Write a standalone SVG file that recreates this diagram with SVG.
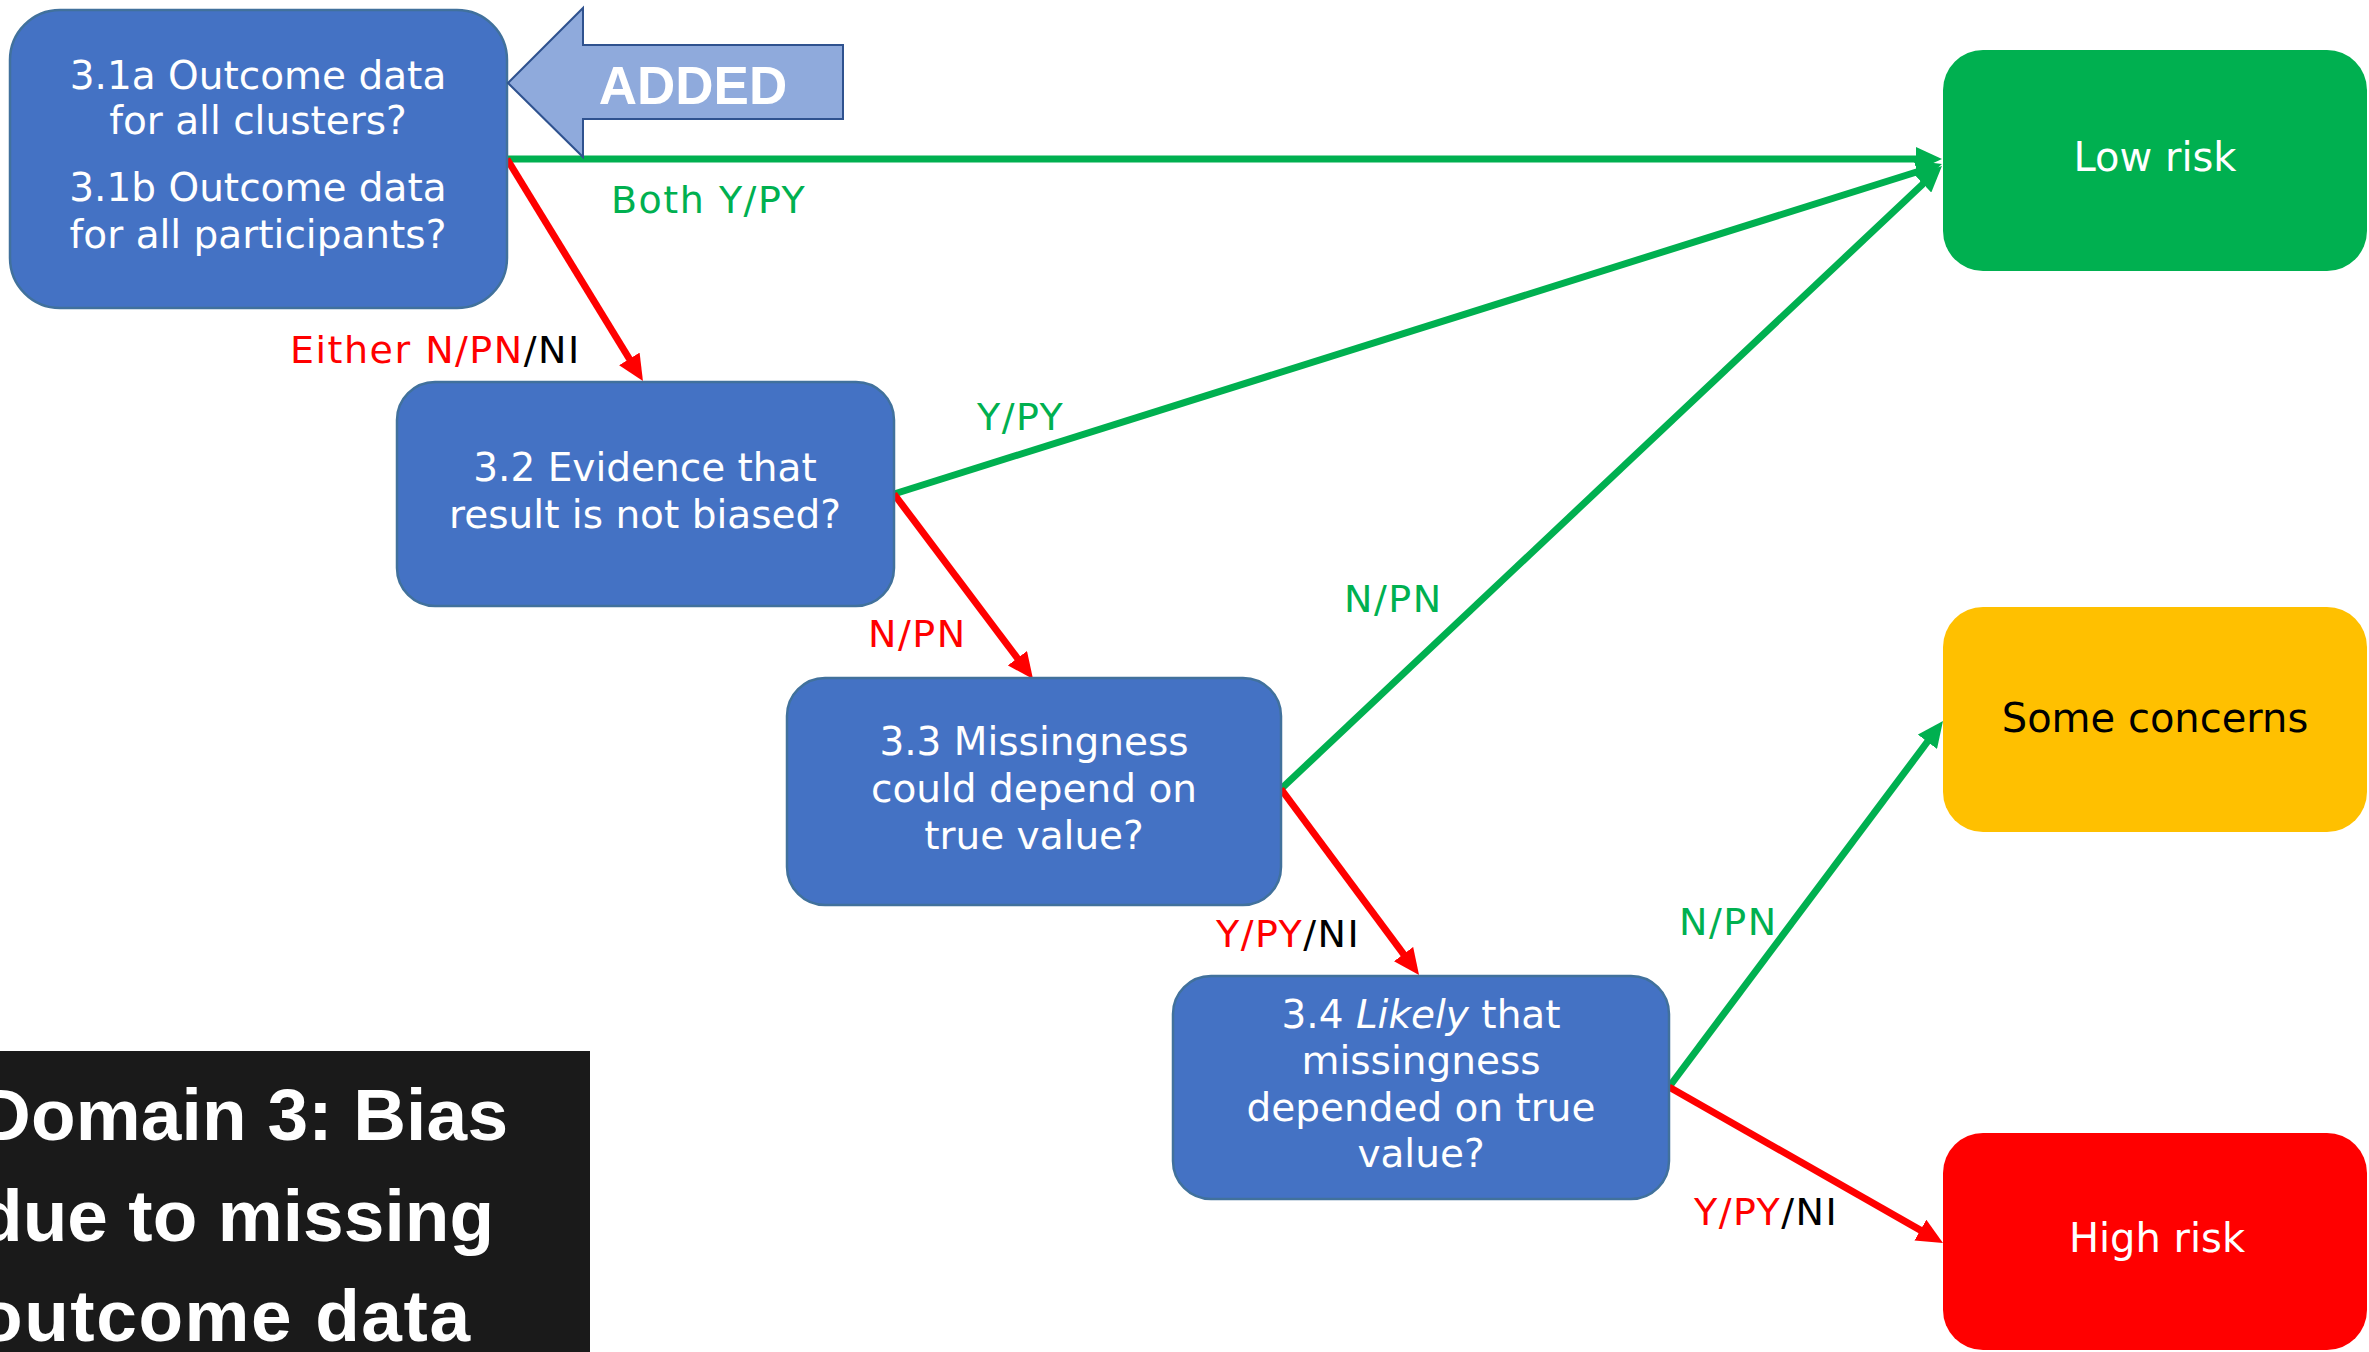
<svg xmlns="http://www.w3.org/2000/svg" width="2369" height="1352" viewBox="0 0 2369 1352">
  <style>
    .q { fill: #4472c4; stroke: #41719c; stroke-width: 2.5; }
    .qt { font-family: "DejaVu Sans", Verdana, sans-serif; font-size: 39px; fill: #ffffff; text-anchor: middle; }
    .ot { font-family: "DejaVu Sans", Verdana, sans-serif; font-size: 40px; text-anchor: middle; }
    .lbl { font-family: "DejaVu Sans", Verdana, sans-serif; font-size: 38px; letter-spacing: 1.5px; }
    .g { fill: #00b050; }
    .r { fill: #ff0000; }
    .k { fill: #000000; }
    .yes { stroke: #00b050; stroke-width: 7; fill: none; }
    .no { stroke: #ff0000; stroke-width: 7; fill: none; }
  </style>
  <defs>
    <marker id="headG" markerUnits="userSpaceOnUse" markerWidth="26" markerHeight="24" refX="6" refY="12" orient="auto">
      <path d="M0,0 L26,12 L0,24 z" fill="#00b050"/>
    </marker>
    <marker id="headR" markerUnits="userSpaceOnUse" markerWidth="26" markerHeight="24" refX="6" refY="12" orient="auto">
      <path d="M0,0 L26,12 L0,24 z" fill="#ff0000"/>
    </marker>
  </defs>

  <rect width="2369" height="1352" fill="#ffffff"/>

  <!-- connectors -->
  <g id="connectors">
    <line class="yes" x1="507" y1="159" x2="1922" y2="159" stroke-width="8" marker-end="url(#headG)"/>
    <line class="no" x1="507" y1="159" x2="632.5" y2="364" marker-end="url(#headR)"/>
    <line class="yes" x1="894" y1="494" x2="1922.9" y2="170" marker-end="url(#headG)"/>
    <line class="no" x1="894" y1="494" x2="1021" y2="663" marker-end="url(#headR)"/>
    <line class="yes" x1="1281" y1="789" x2="1927.4" y2="179.7" stroke-width="5" marker-end="url(#headG)"/>
    <line class="no" x1="1281" y1="789" x2="1407.1" y2="958.9" marker-end="url(#headR)"/>
    <line class="yes" x1="1669" y1="1087" x2="1931" y2="737" marker-end="url(#headG)"/>
    <line class="no" x1="1669" y1="1087" x2="1925.6" y2="1233.1" marker-end="url(#headR)"/>
  </g>

  <!-- connector labels -->
  <g id="labels">
    <text class="lbl g" x="611" y="213">Both Y/PY</text>
    <text class="lbl r" x="290" y="363">Either N/PN<tspan class="k">/NI</tspan></text>
    <text class="lbl g" x="977" y="430">Y/PY</text>
    <text class="lbl r" x="868" y="647">N/PN</text>
    <text class="lbl g" x="1344" y="612">N/PN</text>
    <text class="lbl r" x="1216" y="947">Y/PY<tspan class="k">/NI</tspan></text>
    <text class="lbl g" x="1679" y="935">N/PN</text>
    <text class="lbl r" x="1694" y="1225">Y/PY<tspan class="k">/NI</tspan></text>
  </g>

  <!-- question 3.1 -->
  <g id="q31">
    <rect class="q" x="10" y="10" width="497" height="298" rx="50" ry="50"/>
    <text class="qt" x="258" y="89">3.1a Outcome data</text>
    <text class="qt" x="258" y="134">for all clusters?</text>
    <text class="qt" x="258" y="201">3.1b Outcome data</text>
    <text class="qt" x="258" y="248">for all participants?</text>
  </g>

  <!-- "ADDED" call-out arrow -->
  <g id="added">
    <polygon points="508,83 583,8 583,45 843,45 843,119 583,119 583,157" fill="#8faadc" stroke="#2f528f" stroke-width="2"/>
    <text x="693" y="104" font-family="Liberation Sans, Arial, sans-serif" font-size="53" font-weight="bold" fill="#ffffff" text-anchor="middle">ADDED</text>
  </g>

  <!-- question 3.2 -->
  <g id="q32">
    <rect class="q" x="397" y="382" width="497" height="224" rx="38" ry="38"/>
    <text class="qt" x="645" y="481">3.2 Evidence that</text>
    <text class="qt" x="645" y="528">result is not biased?</text>
  </g>

  <!-- question 3.3 -->
  <g id="q33">
    <rect class="q" x="787" y="678" width="494" height="227" rx="38" ry="38"/>
    <text class="qt" x="1034" y="755">3.3 Missingness</text>
    <text class="qt" x="1034" y="802">could depend on</text>
    <text class="qt" x="1034" y="849">true value?</text>
  </g>

  <!-- question 3.4 -->
  <g id="q34">
    <rect class="q" x="1173" y="976" width="496" height="223" rx="38" ry="38"/>
    <text class="qt" x="1421" y="1028">3.4 <tspan font-style="italic">Likely</tspan> that</text>
    <text class="qt" x="1421" y="1074">missingness</text>
    <text class="qt" x="1421" y="1121">depended on true</text>
    <text class="qt" x="1421" y="1167">value?</text>
  </g>

  <!-- outcomes -->
  <g id="low-risk">
    <rect x="1943" y="50" width="424" height="221" rx="40" ry="40" fill="#00b050"/>
    <text class="ot" x="2155" y="171" fill="#ffffff">Low risk</text>
  </g>
  <g id="some-concerns">
    <rect x="1943" y="607" width="424" height="225" rx="40" ry="40" fill="#ffc000"/>
    <text class="ot" x="2155" y="732" fill="#000000">Some concerns</text>
  </g>
  <g id="high-risk">
    <rect x="1943" y="1133" width="424" height="217" rx="40" ry="40" fill="#ff0000"/>
    <text class="ot" x="2157" y="1252" fill="#ffffff">High risk</text>
  </g>

  <!-- domain title -->
  <g id="domain-title">
    <rect x="-10" y="1051" width="600" height="320" fill="#1a1a1a"/>
    <g font-family="Liberation Sans, Arial, sans-serif" font-size="73" font-weight="bold" fill="#ffffff">
      <text x="-22" y="1140" textLength="530">Domain 3: Bias</text>
      <text x="-22" y="1241" textLength="516">due to missing</text>
      <text x="-22" y="1341" textLength="492">outcome data</text>
    </g>
  </g>
</svg>
